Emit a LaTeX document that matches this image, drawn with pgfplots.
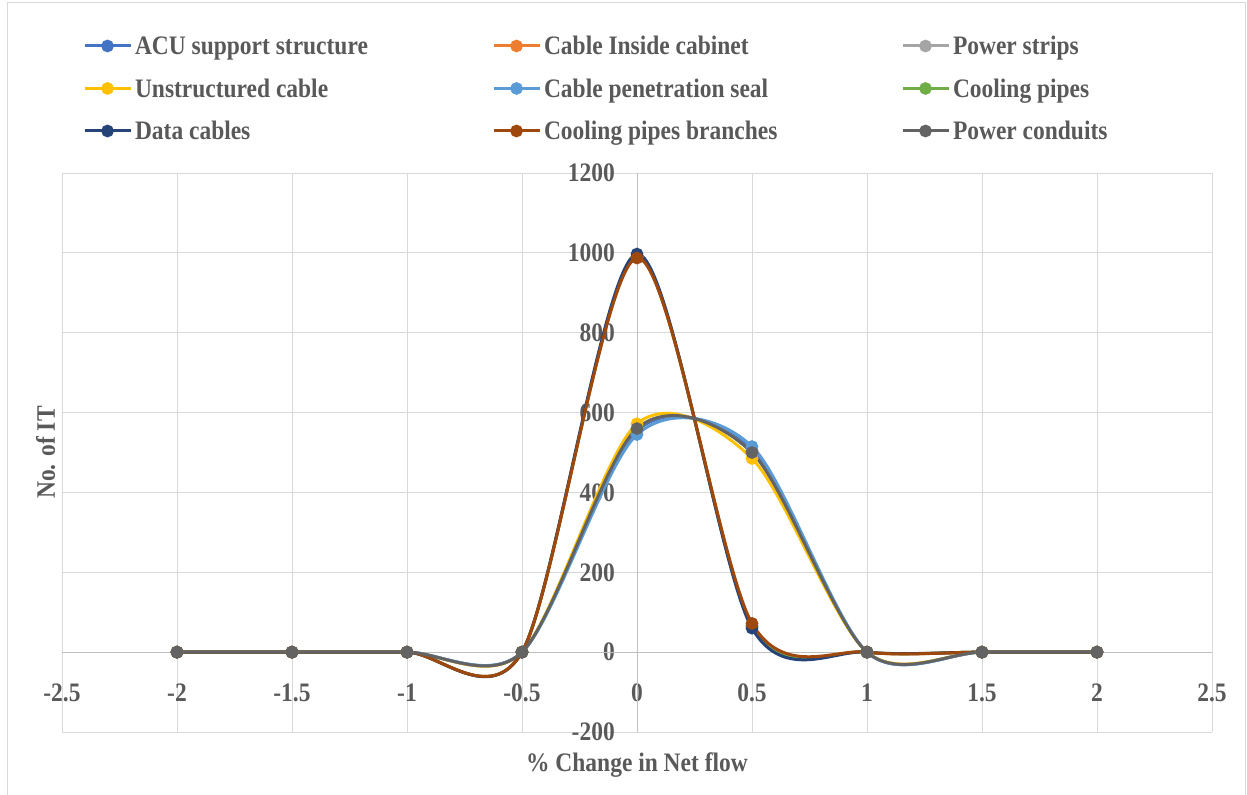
\documentclass[border=0pt]{standalone}
\usepackage{fontspec}
\setmainfont{Liberation Serif}[FakeStretch=0.88]
\usepackage{pgfplots}
\pgfplotsset{compat=1.18}
\definecolor{cACU}{HTML}{4472C4}
\definecolor{cCIC}{HTML}{ED7D31}
\definecolor{cPS}{HTML}{A5A5A5}
\definecolor{cUC}{HTML}{FFC000}
\definecolor{cCPS}{HTML}{5B9BD5}
\definecolor{cCP}{HTML}{70AD47}
\definecolor{cDC}{HTML}{264478}
\definecolor{cCPB}{HTML}{9E480E}
\definecolor{cPC}{HTML}{636363}
\definecolor{txt}{HTML}{595959}
\definecolor{grd}{HTML}{D9D9D9}
\definecolor{zer}{HTML}{BFBFBF}
\newcommand{\ff}{\fontsize{20}{24}\selectfont\bfseries}
\newcommand{\LE}[1]{\makebox[267.75pt][l]{#1}}
\begin{document}
\begin{tikzpicture}
\useasboundingbox (0,0) rectangle (935.25pt,595.5pt);
\draw[grd, line width=0.75pt] (5.25pt,-3pt) rectangle (934pt,593.25pt);
\begin{axis}[
  at={(46.5pt,46.5pt)}, anchor=south west,
  scale only axis, width=862.5pt, height=419.25pt,
  xmin=-2.5, xmax=2.5, ymin=-200, ymax=1200,
  xtick={-2.5,-2,-1.5,-1,-0.5,0,0.5,1,1.5,2,2.5},
  xticklabels={-2.5,-2,-1.5,-1,-0.5,0,0.5,1,1.5,2,2.5},
  ytick={-200,0,200,400,600,800,1000,1200},
  yticklabels={-200,0,200,400,600,800,1000,1200},
  axis line style={draw=none}, major tick length=0pt,
  grid=major, major grid style={grd, line width=0.75pt},
  extra x ticks={0}, extra y ticks={0}, extra x tick labels={}, extra y tick labels={},
  extra tick style={grid=major, major grid style={zer, line width=0.75pt}},
  xticklabel style={font=\ff, text=txt, inner sep=0pt, anchor=north, yshift=36.4pt},
  yticklabel style={font=\ff, text=txt, inner sep=0pt, anchor=east, xshift=414.75pt},
  xlabel={\% Change in Net flow}, ylabel={No. of IT},
  every axis x label/.style={at={(axis description cs:0.5,0)}, anchor=base, yshift=-29.25pt, font=\ff, text=txt, inner sep=0pt},
  every axis y label/.style={at={(axis description cs:-0.0061,0.5)}, anchor=base, rotate=90, font=\ff, text=txt, inner sep=0pt},
  legend columns=3,
  legend image code/.code={
    \draw[mark repeat=2, mark phase=2, #1] plot coordinates {(0pt,2pt) (17.25pt,2pt) (34.5pt,2pt)};
    \path (36.75pt,2pt);
  },
  legend style={at={(rel axis cs:0.0183,1.2445)}, anchor=north west, draw=none, fill=none,
    inner sep=0pt, outer sep=0pt, column sep=0pt, row sep=13.375pt,
    nodes={inner sep=0pt, text height=14pt, text depth=4.5pt, font=\ff, text=txt},
    cells={anchor=west}},
  ser/.style={smooth, line width=2.25pt, color=#1, mark=*, mark size=3.6pt, mark options={solid, fill=#1, draw=#1}},
  clip=false,
]
\addplot[ser=cACU] coordinates {(-2,0) (-1.5,0) (-1,0) (-0.5,0) (0,555) (0.5,505) (1,0) (1.5,0) (2,0)};
\addlegendentry{\LE{ACU support structure}}
\addplot[ser=cCIC] coordinates {(-2,0) (-1.5,0) (-1,0) (-0.5,0) (0,990) (0.5,66) (1,0) (1.5,0) (2,0)};
\addlegendentry{\LE{Cable Inside cabinet}}
\addplot[ser=cPS] coordinates {(-2,0) (-1.5,0) (-1,0) (-0.5,0) (0,560) (0.5,500) (1,0) (1.5,0) (2,0)};
\addlegendentry{\LE{Power strips}}
\addplot[ser=cUC] coordinates {(-2,0) (-1.5,0) (-1,0) (-0.5,0) (0,572) (0.5,485) (1,0) (1.5,0) (2,0)};
\addlegendentry{\LE{Unstructured cable}}
\addplot[ser=cCPS] coordinates {(-2,0) (-1.5,0) (-1,0) (-0.5,0) (0,545) (0.5,515) (1,0) (1.5,0) (2,0)};
\addlegendentry{\LE{Cable penetration seal}}
\addplot[ser=cCP] coordinates {(-2,0) (-1.5,0) (-1,0) (-0.5,0) (0,990) (0.5,66) (1,0) (1.5,0) (2,0)};
\addlegendentry{\LE{Cooling pipes}}
\addplot[ser=cDC] coordinates {(-2,0) (-1.5,0) (-1,0) (-0.5,0) (0,997) (0.5,60) (1,0) (1.5,0) (2,0)};
\addlegendentry{\LE{Data cables}}
\addplot[ser=cCPB] coordinates {(-2,0) (-1.5,0) (-1,0) (-0.5,0) (0,987) (0.5,72) (1,0) (1.5,0) (2,0)};
\addlegendentry{\LE{Cooling pipes branches}}
\addplot[ser=cPC] coordinates {(-2,0) (-1.5,0) (-1,0) (-0.5,0) (0,560) (0.5,500) (1,0) (1.5,0) (2,0)};
\addlegendentry{\LE{Power conduits}}
\end{axis}
\end{tikzpicture}
\end{document}
